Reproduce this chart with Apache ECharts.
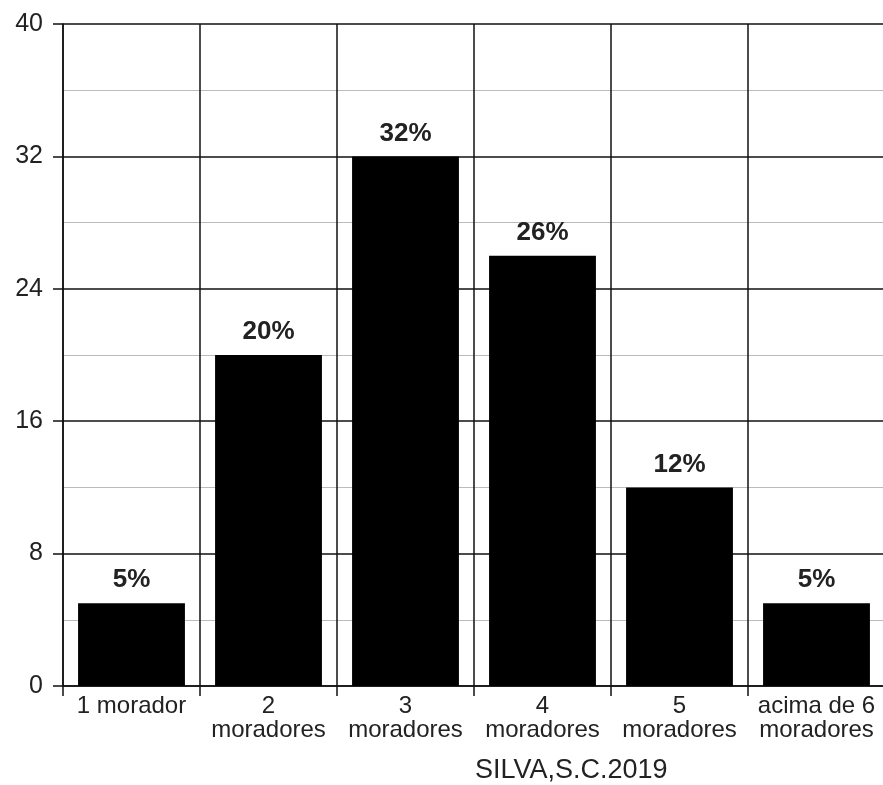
<!DOCTYPE html>
<html>
<head>
<meta charset="utf-8">
<script src="https://cdn.jsdelivr.net/npm/echarts@6/dist/echarts.min.js"></script>
<style>html,body{margin:0;padding:0;background:#fff;}#c{width:883px;height:785px;}</style>
</head>
<body>
<div id="c"></div>
<script>
const categories = ['1 morador', '2\nmoradores', '3\nmoradores', '4\nmoradores', '5\nmoradores', 'acima de 6\nmoradores'];
const values = [5, 20, 32, 26, 12, 5];
const sourceText = 'SILVA,S.C.2019';

const chart = echarts.init(document.getElementById('c'));
const font = 'Liberation Sans, Arial, sans-serif';
chart.setOption({
  animation: false,
  backgroundColor: '#fff',
  grid: { left: 63, width: 822, top: 24, bottom: 99, containLabel: false, outerBoundsMode: 'none' },
  xAxis: {
    type: 'category',
    data: categories,
    axisLine: { show: true, lineStyle: { color: '#111', width: 1.5 } },
    axisTick: { show: true, alignWithLabel: false, length: 10, lineStyle: { color: '#111', width: 1.5 } },
    axisLabel: { color: '#222', fontSize: 24, lineHeight: 24, margin: 8, fontFamily: font, interval: 0 },
    splitLine: { show: true, lineStyle: { color: '#111', width: 1.5 } }
  },
  yAxis: {
    type: 'value',
    min: 0, max: 40, interval: 8,
    axisLine: { show: true, lineStyle: { color: '#111', width: 1.5 } },
    axisTick: { show: true, length: 10, lineStyle: { color: '#111', width: 1.5 } },
    axisLabel: { color: '#222', fontSize: 25, margin: 20, fontFamily: font },
    splitLine: { show: true, lineStyle: { color: '#111', width: 1.5 } },
    minorTick: { show: false, splitNumber: 2 },
    minorSplitLine: { show: true, lineStyle: { color: '#bbb', width: 1.2 } }
  },
  series: [{
    type: 'bar',
    data: values,
    barCategoryGap: '22%',
    itemStyle: { color: '#000' },
    label: {
      show: true, position: 'top', distance: 10,
      formatter: '{c}%', color: '#222', fontSize: 26, fontWeight: 'bold', fontFamily: font
    }
  }],
  graphic: [{
    type: 'text',
    left: 475, top: 757,
    style: { text: sourceText, fill: '#222', fontSize: 27, fontFamily: font }
  }]
});
</script>
</body>
</html>
